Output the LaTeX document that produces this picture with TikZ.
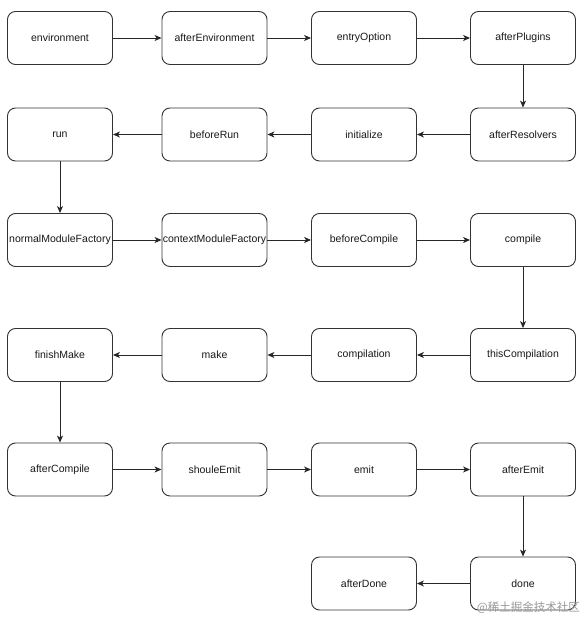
\documentclass[tikz,border=0pt]{standalone}
\usepackage{fontspec}
\setmainfont{Liberation Sans}
\newfontfamily\cjk{Noto Sans CJK SC}
\usetikzlibrary{arrows.meta}
\begin{document}
\begin{tikzpicture}[x=1pt,y=-1pt,
  box/.style={draw=black!80, line width=0.9pt, rounded corners=8pt, minimum width=105pt, minimum height=53pt, inner sep=0pt, font=\fontsize{10.5}{12}\selectfont, text=black!90},
  conn/.style={draw=black!85, line width=0.9pt, -{Stealth[length=7pt,width=6pt,inset=2pt]}}]
\useasboundingbox (0,0) rectangle (585,620);
\fill[white] (0,0) rectangle (585,620);
\def\ca{60}\def\cb{214.5}\def\cc{364}\def\cd{523}
\node[box] (env) at (\ca,38) {environment};
\node[box] (aenv) at (\cb,38) {afterEnvironment};
\node[box] (eo) at (\cc,38) {entryOption};
\node[box] (ap) at (\cd,38) {afterPlugins};
\node[box] (run) at (\ca,134.5) {run};
\node[box] (br) at (\cb,134.5) {beforeRun};
\node[box] (init) at (\cc,134.5) {initialize};
\node[box] (ar) at (\cd,134.5) {afterResolvers};
\node[box] (nmf) at (\ca,240) {normalModuleFactory};
\node[box] (cmf) at (\cb,240) {contextModuleFactory};
\node[box] (bc) at (\cc,240) {beforeCompile};
\node[box] (comp) at (\cd,240) {compile};
\node[box] (fm) at (\ca,355) {finishMake};
\node[box] (make) at (\cb,355) {make};
\node[box] (cpl) at (\cc,355) {compilation};
\node[box] (tc) at (\cd,355) {thisCompilation};
\node[box] (ac) at (\ca,469.5) {afterCompile};
\node[box] (se) at (\cb,469.5) {shouleEmit};
\node[box] (emit) at (\cc,469.5) {emit};
\node[box] (ae) at (\cd,469.5) {afterEmit};
\node[box] (ad) at (\cc,583.5) {afterDone};
\node[box] (done) at (\cd,583.5) {done};
\draw[conn] (env) -- (aenv);
\draw[conn] (aenv) -- (eo);
\draw[conn] (eo) -- (ap);
\draw[conn] (ap) -- (ar);
\draw[conn] (ar) -- (init);
\draw[conn] (init) -- (br);
\draw[conn] (br) -- (run);
\draw[conn] (run) -- (nmf);
\draw[conn] (nmf) -- (cmf);
\draw[conn] (cmf) -- (bc);
\draw[conn] (bc) -- (comp);
\draw[conn] (comp) -- (tc);
\draw[conn] (tc) -- (cpl);
\draw[conn] (cpl) -- (make);
\draw[conn] (make) -- (fm);
\draw[conn] (fm) -- (ac);
\draw[conn] (ac) -- (se);
\draw[conn] (se) -- (emit);
\draw[conn] (emit) -- (ae);
\draw[conn] (ae) -- (done);
\draw[conn] (done) -- (ad);
\node[text=black!40, font=\cjk\fontsize{11.5}{13}\selectfont, anchor=east, inner sep=0pt] (wm) at (580,608) {@稀土掘金技术社区};
\end{tikzpicture}
\end{document}
